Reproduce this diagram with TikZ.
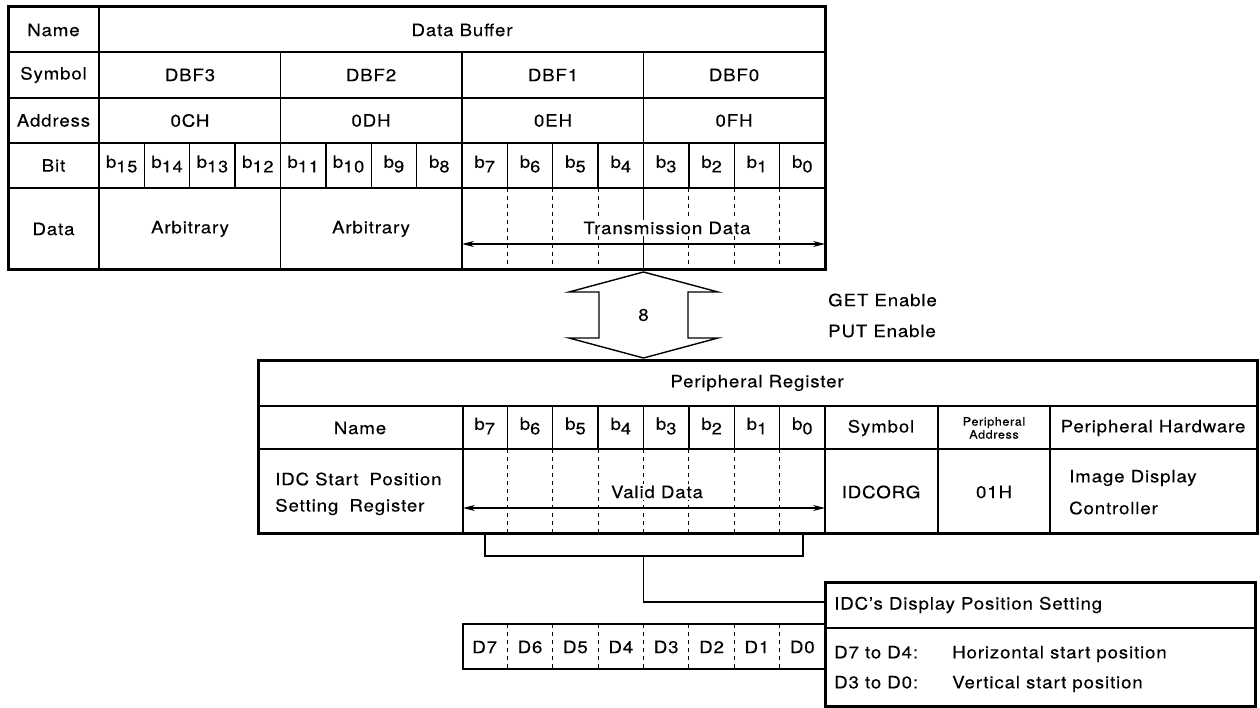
\documentclass[tikz,border=0pt]{standalone}
\usepackage{fontspec}
\setmainfont{TeX Gyre Heros}[LetterSpace=5, FakeStretch=1.1, FakeBold=0.25]
\usetikzlibrary{arrows.meta}
\newcommand\bitlbl[1]{b\raisebox{-4.5pt}{\fontsize{16.5}{17}\selectfont #1}}
\begin{document}
\begin{tikzpicture}[x=1pt,y=-1pt,
  every node/.style={font=\fontsize{17}{20}\selectfont, inner sep=1pt},
  border/.style={line width=3pt},
  thin/.style={line width=1.4pt},
  dashline/.style={line width=1.2pt, dash pattern=on 4pt off 4pt},
  dblarrow/.style={line width=1.4pt, {Stealth[length=12pt,width=6pt]}-{Stealth[length=12pt,width=6pt]}},
  cover/.style={fill=white, inner sep=2pt},
  smalltxt/.style={font=\fontsize{11.5}{13}\selectfont, align=center}]
\useasboundingbox (0,0) rectangle (1260,708);
% ---------------- Data buffer table ----------------
\def\xa{99}\def\w{45.375}
\foreach \y in {52,98,143,188} \draw[thin] (8,\y) -- (825,\y);
\draw[thin] (99,7) -- (99,270);
\foreach \i in {4,8,12} \draw[thin] ({\xa+\i*\w},52) -- ({\xa+\i*\w},270);
\foreach \i in {1,2,3,5,6,7,9,10,11,13,14,15} \draw[thin] ({\xa+\i*\w},143) -- ({\xa+\i*\w},188);
\foreach \i in {9,10,11,13,14,15} \draw[dashline] ({\xa+\i*\w},188) -- ({\xa+\i*\w},270);
\draw[border] (8,7) rectangle (825,270);
\coordinate (tdL) at (462,244);
\coordinate (tdR) at (825,244);
\draw[dblarrow] (tdL) -- (tdR);
\node[cover] (tdata) at (667,228) {Transmission Data};
\node (lname) at (53.5,30) {Name};
\node (lsym) at (53.5,75) {Symbol};
\node (laddr) at (53.5,120.5) {Address};
\node (lbit) at (53.5,165.5) {Bit};
\node (ldata) at (53.5,229) {Data};
\node (dbuf) at (462,30) {Data Buffer};
\node (dbf3) at (190,75) {DBF3};
\node (dbf2) at (371,75) {DBF2};
\node (dbf1) at (553,75) {DBF1};
\node (dbf0) at (734,75) {DBF0};
\node (a3) at (190,120.5) {0CH};
\node (a2) at (371,120.5) {0DH};
\node (a1) at (553,120.5) {0EH};
\node (a0) at (734,120.5) {0FH};
\foreach \i in {0,...,15} {
  \pgfmathtruncatemacro\bn{15-\i}
  \node (tb\bn) at ({\xa+(\i+0.5)*\w},164) {\bitlbl{\bn}};
}
\node (arb3) at (190,229) {Arbitrary};
\node (arb2) at (371,229) {Arbitrary};
% ---------------- Bus arrow ----------------
\draw[thin, fill=white] (643.5,272) -- (718,292) -- (688,292) -- (688,338) -- (718,338) -- (643.5,358)
  -- (569,338) -- (599,338) -- (599,292) -- (569,292) -- cycle;
\node (eight) at (643.5,315) {8};
\node[anchor=west] (get) at (827,300) {GET Enable};
\node[anchor=west] (put) at (827,331) {PUT Enable};
% ---------------- Peripheral register ----------------
\draw[thin] (258,406) -- (1257,406);
\draw[thin] (258,449) -- (1257,449);
\foreach \x in {463,825,938,1050} \draw[thin] (\x,406) -- (\x,533);
\foreach \i in {9,10,11,12,13,14,15} {
  \draw[thin] ({\xa+\i*\w},406) -- ({\xa+\i*\w},449);
  \draw[dashline] ({\xa+\i*\w},449) -- ({\xa+\i*\w},533);
}
\draw[border] (258,360) rectangle (1257,533);
\coordinate (vdL) at (463,508);
\coordinate (vdR) at (825,508);
\draw[dblarrow] (vdL) -- (vdR);
\node[cover] (vdata) at (657,492) {Valid Data};
\node (preg) at (757,383) {Peripheral Register};
\node (pname) at (360,428) {Name};
\foreach \i in {8,...,15} {
  \pgfmathtruncatemacro\bn{15-\i}
  \node (pb\bn) at ({\xa+(\i+0.5)*\w},426) {\bitlbl{\bn}};
}
\node (psym) at (881,428) {Symbol};
\node[smalltxt] (paddr) at (994,428) {Peripheral\\Address};
\node (phw) at (1153,428) {Peripheral Hardware};
\node[anchor=west] (idc1) at (274,479) {IDC Start\hspace{5pt} Position};
\node[anchor=west] (idc2) at (274,507) {Setting\hspace{5pt} Register};
\node (idcorg) at (881,492) {IDCORG};
\node (o1h) at (994,492) {01H};
\node[anchor=west] (hw1) at (1068,478) {Image Display};
\node[anchor=west] (hw2) at (1068,508) {Controller};
% ---------------- Bracket and connector ----------------
\coordinate (brL) at (485,533);
\coordinate (brR) at (803,533);
\coordinate (brM) at (643.5,556);
\coordinate (conE) at (825,602);
\draw[thin] (brL) -- (485,556) -- (803,556) -- (brR);
\draw[thin] (brM) |- (conE);
% ---------------- D7..D0 ----------------
\draw[thin] (463,624) rectangle (825,669);
\foreach \i in {9,...,15} \draw[dashline] ({\xa+\i*\w},624) -- ({\xa+\i*\w},669);
\foreach \i in {8,...,15} {
  \pgfmathtruncatemacro\bn{15-\i}
  \node (d\bn) at ({\xa+(\i+0.5)*\w},647) {D\bn};
}
% ---------------- IDC box ----------------
\draw[line width=2pt] (825,628) -- (1255,628);
\draw[border] (825,582) rectangle (1255,706);
\node[anchor=west] (idct) at (833,605) {IDC's Display Position Setting};
\node[anchor=west] (idcl1) at (833,654) {\makebox[118pt][l]{D7 to D4:}Horizontal start position};
\node[anchor=west] (idcl2) at (833,684) {\makebox[118pt][l]{D3 to D0:}Vertical start position};
\end{tikzpicture}
\end{document}
